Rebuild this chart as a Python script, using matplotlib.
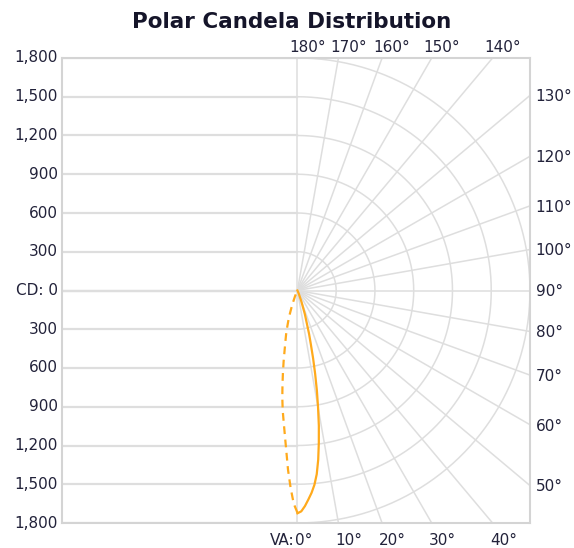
import numpy as np
import matplotlib.pyplot as plt

# vertical angle (deg) and candela
vertical_angles = [0, 1, 2, 3, 4, 5, 6, 7, 8, 9, 10, 11, 12, 13, 14, 15,
                   17.5, 20, 22.5, 25, 27.5, 30]
candela_c0 = [1725, 1710, 1670, 1620, 1570, 1510, 1430, 1320, 1190, 1060, 920, 790,
              660, 540, 430, 350, 190, 85, 30, 10, 0, 0]
candela_c90 = [1720, 1650, 1525, 1390, 1240, 1120, 1020, 935, 840, 740, 645, 560,
               480, 420, 370, 330, 220, 120, 50, 15, 0, 0]

cd_ticks = [0, 300, 600, 900, 1200, 1500, 1800]
ray_angles = list(range(0, 181, 10))
top_labels = [180, 170, 160, 150, 140]
right_labels = [130, 120, 110, 100, 90, 80, 70, 60, 50]
bottom_labels = [0, 10, 20, 30, 40]

R_MAX = 1800
GRID = '#dedede'
TEXT = '#22223a'
ORANGE = '#ffaa1c'


def to_xy(angles, cd, side=1):
    a = np.radians(angles)
    r = np.asarray(cd, dtype=float)
    return side * r * np.sin(a), -r * np.cos(a)


fig = plt.figure(figsize=(5.74, 5.48), dpi=100)
ax = fig.add_axes([62 / 574, 25 / 548, 468 / 574, 465 / 548])
xmin = -1822
ax.set_xlim(xmin, R_MAX)
ax.set_ylim(-R_MAX, R_MAX)
ax.set_xticks([])
ax.set_yticks([])
for s in ax.spines.values():
    s.set_color('#d4d4d4')
    s.set_linewidth(1.5)

# horizontal lines on the left half + semicircles on the right half
t = np.radians(np.linspace(0, 180, 361))
for v in cd_ticks:
    for sgn in (1, -1):
        ax.plot([xmin, 0], [sgn * v, sgn * v], color=GRID, lw=1.6, zorder=1)
    if v > 0:
        ax.plot(v * np.sin(t), -v * np.cos(t), color=GRID, lw=1.1, zorder=1)

# radial lines every 10 deg
for a in ray_angles:
    ar = np.radians(a)
    ax.plot([0, 3 * R_MAX * np.sin(ar)], [0, -3 * R_MAX * np.cos(ar)],
            color=GRID, lw=1.1, zorder=1)

# candela curves
x0, y0 = to_xy(vertical_angles, candela_c0, 1)
x90, y90 = to_xy(vertical_angles, candela_c90, -1)
ax.plot(x0, y0, color=ORANGE, lw=1.6, zorder=3, solid_joinstyle='round')
ax.plot(x90, y90, color=ORANGE, lw=1.6, ls=(0, (3.5, 2.5)), zorder=3)

# left axis labels
for v in cd_ticks:
    for sgn in (1, -1):
        if v == 0 and sgn == -1:
            continue
        lab = 'CD: 0' if v == 0 else f'{v:,}'
        ax.annotate(lab, xy=(xmin, sgn * v), xytext=(-3, 0), textcoords='offset points',
                    ha='right', va='center', fontsize=11, color=TEXT, annotation_clip=False)

# angle labels
for a in top_labels:
    xe = R_MAX * np.tan(np.radians(180 - a))
    ax.annotate(f'{a}°', xy=(xe, R_MAX), xytext=(-6, 4), textcoords='offset points',
                ha='left', va='baseline', fontsize=11, color=TEXT, annotation_clip=False)
for a in right_labels:
    ye = -R_MAX / np.tan(np.radians(a)) if a != 90 else 0
    ax.annotate(f'{a}°', xy=(R_MAX, ye), xytext=(4, -1), textcoords='offset points',
                ha='left', va='center', fontsize=11, color=TEXT, annotation_clip=False)
for a in bottom_labels:
    xe = R_MAX * np.tan(np.radians(a))
    ax.annotate(f'{a}°', xy=(xe, -R_MAX), xytext=(-2, -7), textcoords='offset points',
                ha='left', va='top', fontsize=11, color=TEXT, annotation_clip=False)
ax.annotate('VA:', xy=(0, -R_MAX), xytext=(-2, -7), textcoords='offset points',
            ha='right', va='top', fontsize=11, color=TEXT, annotation_clip=False)

fig.text(292 / 574, 1 - 22 / 548, 'Polar Candela Distribution', ha='center', va='center',
         fontsize=15.5, fontweight='bold', color='#15152a')

fig.savefig('out.png', dpi=100)
